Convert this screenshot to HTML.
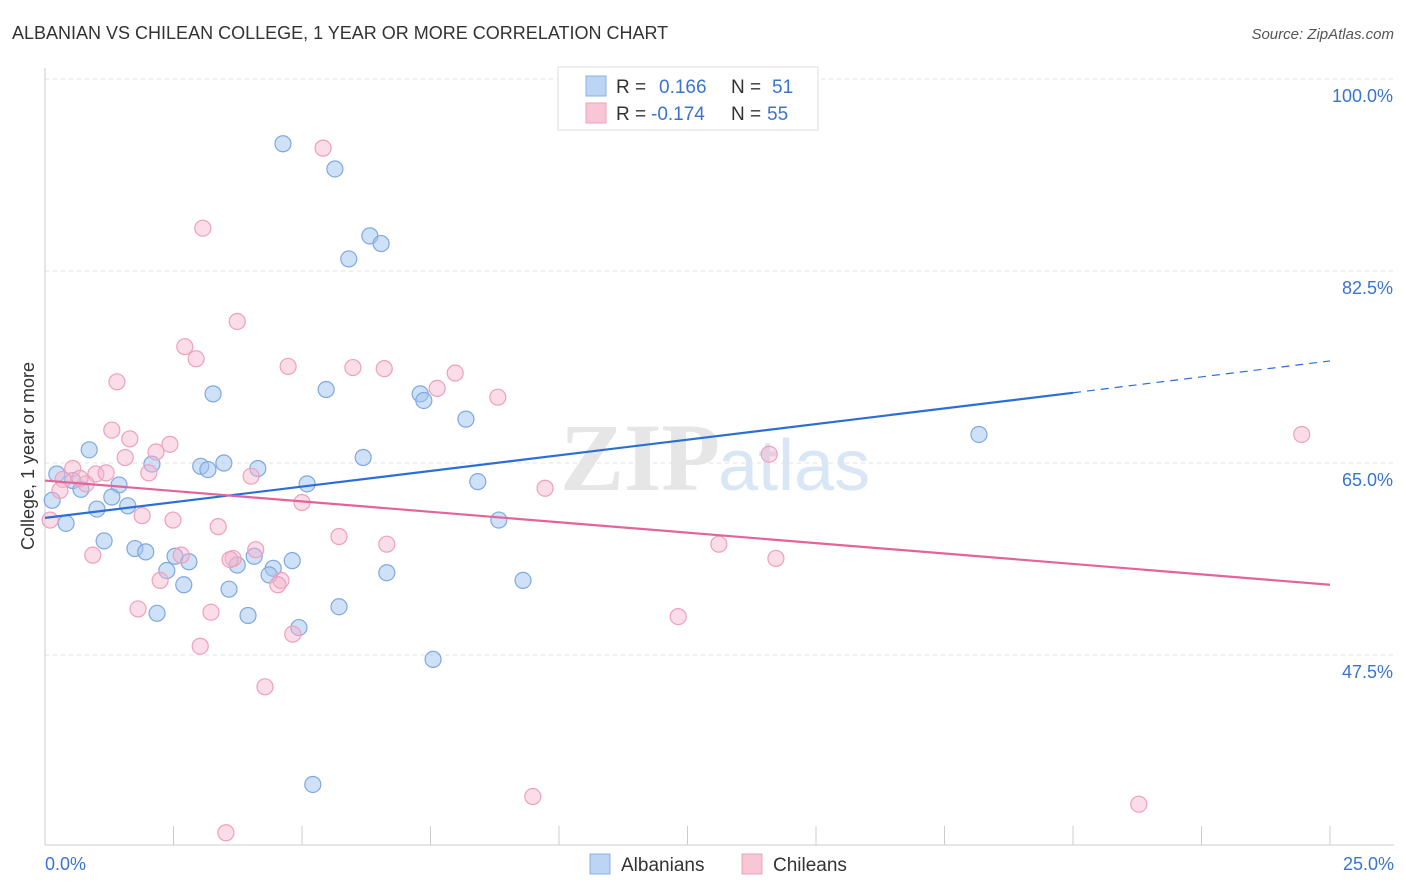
<!DOCTYPE html>
<html><head><meta charset="utf-8"><style>
body{margin:0;background:#fff;font-family:"Liberation Sans",sans-serif;}
svg{display:block}
</style></head><body>
<svg id="chart" width="1406" height="892">
<text x="12" y="39" font-size="18" fill="#333">ALBANIAN VS CHILEAN COLLEGE, 1 YEAR OR MORE CORRELATION CHART</text>
<text x="1394" y="39" font-size="15" fill="#555" text-anchor="end" font-style="italic">Source: ZipAtlas.com</text>
<text x="720" y="490" font-size="96" fill="#e6e6e6" text-anchor="end" font-family="Liberation Serif" font-weight="bold">ZIP</text>
<text x="718" y="490" font-size="72" fill="#d8e6f6">atlas</text>
<g id="grid"></g>
<g id="axes"></g>
<text transform="translate(34,456) rotate(-90)" font-size="18" fill="#333" text-anchor="middle">College, 1 year or more</text>
<g id="pts"></g>
<g id="lines"></g>
<g>
<rect x="558" y="67" width="260" height="63" fill="#fff" stroke="#ddd"/>
<rect x="586" y="76" width="20" height="20" fill="#bcd5f5" stroke="#8ab0e3"/>
<text x="616" y="93" font-size="19" fill="#333">R = </text><text x="659" y="93" font-size="19" fill="#3a74d0">0.166</text>
<text x="731" y="93" font-size="19" fill="#333">N = </text><text x="772" y="93" font-size="19" fill="#3a74d0">51</text>
<rect x="586" y="103" width="20" height="20" fill="#f9c6d6" stroke="#eea0bb"/>
<text x="616" y="120" font-size="19" fill="#333">R = </text><text x="651" y="120" font-size="19" fill="#3a74d0">-0.174</text>
<text x="731" y="120" font-size="19" fill="#333">N = </text><text x="767" y="120" font-size="19" fill="#3a74d0">55</text>
</g>
<g>
<rect x="590" y="854" width="20" height="20" fill="#bcd5f5" stroke="#8ab0e3"/>
<text x="621" y="871" font-size="19" fill="#333">Albanians</text>
<rect x="742" y="854" width="20" height="20" fill="#f9c6d6" stroke="#eea0bb"/>
<text x="773" y="871" font-size="19" fill="#333">Chileans</text>
</g>
</svg>
<script>
const xTicks=[0,2.5,5,7.5,10,12.5,15,17.5,20,22.5,25];
const yTicks=[100,82.5,65,47.5];
const yTickLabels=["100.0%","82.5%","65.0%","47.5%"];
const xEndLabels=["0.0%","25.0%"];
const albX=[4.63,5.64,6.32,6.54,5.91,3.27,5.47,7.30,7.37,8.19,18.17,0.86,2.08,3.03,3.17,3.48,4.14,6.19,8.42,5.10,0.23,0.54,0.70,1.44,1.30,1.01,1.61,0.41,8.83,1.15,1.75,1.96,2.53,2.80,2.37,3.74,4.07,4.81,4.44,4.36,6.65,9.30,2.70,3.58,2.18,3.95,5.72,4.94,7.55,5.21,0.14];
const albY=[94.1,91.8,85.7,85.0,83.6,71.3,71.7,71.3,70.7,69.0,67.6,66.2,64.9,64.7,64.4,65.0,64.5,65.5,63.3,63.1,64.0,63.4,62.6,63.0,61.9,60.8,61.1,59.5,59.8,57.9,57.2,56.9,56.5,56.0,55.2,55.7,56.5,56.1,55.4,54.8,55.0,54.3,53.9,53.5,51.3,51.1,51.9,50.0,47.1,35.7,61.6];
const chiX=[5.41,3.07,3.74,2.72,2.94,4.73,5.99,6.60,7.98,7.63,1.40,8.81,1.30,1.65,2.16,2.43,1.56,2.02,0.54,0.99,1.19,0.35,0.80,24.45,14.09,9.73,4.01,5.00,1.89,2.49,3.37,5.72,6.65,13.11,14.22,0.93,2.65,3.66,4.10,2.24,4.59,4.53,1.81,3.23,12.32,4.82,3.02,4.28,9.49,21.28,3.52,0.10,0.29,0.68,3.60];
const chiY=[93.7,86.4,77.9,75.6,74.5,73.8,73.7,73.6,73.2,71.8,72.4,71.0,68.0,67.2,66.0,66.7,65.5,64.1,64.5,64.0,64.1,63.5,63.1,67.6,65.8,62.7,63.8,61.4,60.2,59.8,59.2,58.3,57.6,57.6,56.3,56.6,56.6,56.3,57.1,54.3,54.3,53.9,51.7,51.4,51.0,49.4,48.3,44.6,34.6,33.9,31.3,59.8,62.5,63.6,56.2];
const albTrend=[60.0,71.4,74.3]; // at x=0,20,25
const chiTrend=[63.4,53.9]; // at x=0,25
const NS="http://www.w3.org/2000/svg";
const sx=v=>45+v/25*1285;
const sy=v=>79+(100-v)/17.5*192;
function mk(t,a,p){const e=document.createElementNS(NS,t);for(const k in a)e.setAttribute(k,a[k]);p.appendChild(e);return e;}
const grid=document.getElementById('grid'),axes=document.getElementById('axes');
yTicks.forEach((v,i)=>{
 const l=mk('line',{x1:45,x2:1394,y1:sy(v),y2:sy(v),stroke:'#e2e2e2','stroke-dasharray':'4,4'},grid);
 
 
 const t=mk('text',{x:1393,y:sy(v)+23,'font-size':18,fill:'#3a74d0','text-anchor':'end'},axes);
 t.textContent=yTickLabels[i];
 
 
});
const ax=mk('line',{x1:45,x2:1394,y1:845,y2:845,stroke:'#ccc'},axes);


const ay=mk('line',{x1:45,x2:45,y1:68,y2:845,stroke:'#ccc'},axes);


xTicks.forEach(v=>{
 const l=mk('line',{x1:sx(v),x2:sx(v),y1:826,y2:845,stroke:'#ccc'},axes);
 
 
});
[[0,'start',45],[25,'end',1394]].forEach((d,i)=>{
 const t=mk('text',{x:d[2],y:870,'font-size':18,fill:'#3a74d0','text-anchor':d[1]},axes);
 t.textContent=xEndLabels[i];
 
 
});
const pts=document.getElementById('pts');
albX.forEach((x,i)=>{
 const c=mk('circle',{cx:sx(x),cy:sy(albY[i]),r:8,fill:'rgba(160,195,240,0.5)',stroke:'#7fa8e0','stroke-width':1.2},pts);
 
 
});
chiX.forEach((x,i)=>{
 const c=mk('circle',{cx:sx(x),cy:sy(chiY[i]),r:8,fill:'rgba(245,180,205,0.45)',stroke:'#eea0bb','stroke-width':1.2},pts);
 
 
});
const lines=document.getElementById('lines');
const b1=mk('line',{x1:sx(0),y1:sy(albTrend[0]),x2:sx(20),y2:sy(albTrend[1]),stroke:'#2b6fd6','stroke-width':2.2},lines);


const b2=mk('line',{x1:sx(20),y1:sy(albTrend[1]),x2:sx(25),y2:sy(albTrend[2]),stroke:'#2b6fd6','stroke-width':1.2,'stroke-dasharray':'8,6'},lines);


const p1=mk('line',{x1:sx(0),y1:sy(chiTrend[0]),x2:sx(25),y2:sy(chiTrend[1]),stroke:'#e2649a','stroke-width':2.2},lines);


</script>
</body></html>
